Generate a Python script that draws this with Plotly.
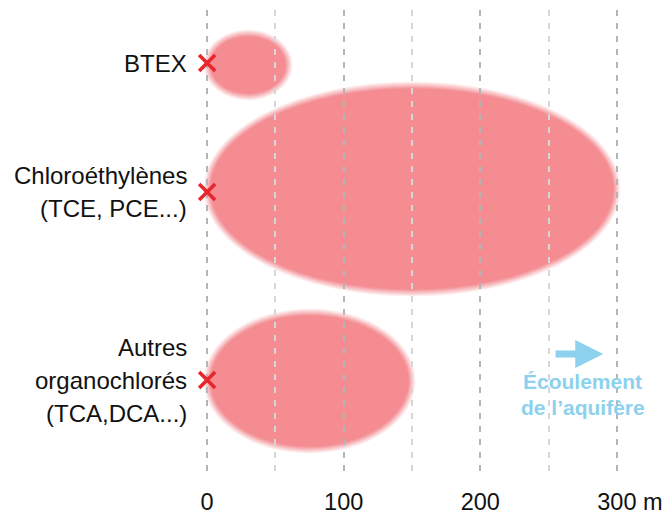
import plotly.graph_objects as go

# ---------------- data ----------------
categories = [["BTEX"], ["Chloroéthylènes", "(TCE, PCE...)"], ["Autres", "organochlorés", "(TCA,DCA...)"]]
source_x = [0, 0, 0]                 # m, source location
plume_length = [60, 300, 150]        # m, plume extent downstream
row_y = [53, 182, 370]               # vertical row position (schematic units)
plume_center_y = [55, 179, 371]
plume_half_height = [32, 104, 69]

tick_vals = [0, 100, 200, 300]
tick_text = ["0", "100", "200", "\u00a0\u00a0\u00a0\u00a0300 m"]
minor_vals = [50, 150, 250]

flow_label = ["Écoulement", "de l’aquifère"]
flow_arrow_x = [254, 290]
flow_arrow_y = 344
flow_text_x = 275
flow_text_y = [371, 397]

# ---------------- style ----------------
W, H = 666, 515
X_RANGE = [-14, 314]
PLOT_TOP, PLOT_BOTTOM = 10, 477
M_T, M_B = PLOT_TOP, H - PLOT_BOTTOM
PLOT_H = PLOT_BOTTOM - PLOT_TOP
PX_PER_M = 136.67 / 100
M_L = round(207 - (0 - X_RANGE[0]) * PX_PER_M)
PLOT_W = (X_RANGE[1] - X_RANGE[0]) * PX_PER_M
M_R = round(W - M_L - PLOT_W)

PLUME_RGB = (244, 140, 146)
BLUE = "#8CD2EE"
FONT = "Liberation Sans, Arial, sans-serif"

fig = go.Figure()

# plumes as blurred ellipses (linear alpha ramp from outside to inside)
shapes = []
BLUR = 3.5
N = 10
for sx, L, cy, hh in zip(source_x, plume_length, plume_center_y, plume_half_height):
    for k in range(1, N + 1):
        e = BLUR - 2 * BLUR * (k - 1) / (N - 1)      # outermost first
        a = 1.0 / (N - k + 1)
        ex = e / PX_PER_M
        shapes.append(dict(type="circle", xref="x", yref="y", layer="below",
                           x0=sx - ex, x1=sx + L + ex, y0=cy - hh - e, y1=cy + hh + e,
                           line=dict(width=0),
                           fillcolor=f"rgba({PLUME_RGB[0]},{PLUME_RGB[1]},{PLUME_RGB[2]},{a:.4f})"))

# source markers
fig.add_trace(go.Scatter(x=source_x, y=row_y, mode="markers",
                         marker=dict(symbol="x-thin", size=16, color="#E8262C",
                                     line=dict(width=3.6, color="#E8262C")),
                         cliponaxis=False, hoverinfo="skip", showlegend=False))

annotations = []
LINE_H = 33
for lines, y in zip(categories, row_y):
    n = len(lines)
    for i, t in enumerate(lines):
        annotations.append(dict(x=0, y=y, xref="x", yref="y", text=t, showarrow=False,
                                xanchor="right", yanchor="middle", align="right",
                                xshift=-18, yshift=-(i - (n - 1) / 2) * LINE_H,
                                font=dict(family=FONT, size=24, color="#111111")))

# flow arrow
annotations.append(dict(x=flow_arrow_x[1], y=flow_arrow_y, ax=flow_arrow_x[0], ay=flow_arrow_y,
                        xref="x", yref="y", axref="x", ayref="y", text="", showarrow=True,
                        arrowhead=2, arrowsize=0.8, arrowwidth=7, arrowcolor=BLUE))
for t, y in zip(flow_label, flow_text_y):
    annotations.append(dict(x=flow_text_x, y=y, xref="x", yref="y", text="<b>" + t + "</b>",
                            showarrow=False, xanchor="center", yanchor="middle",
                            font=dict(family=FONT, size=21, color=BLUE)))

fig.update_layout(
    width=W, height=H,
    margin=dict(l=M_L, r=M_R, t=M_T, b=M_B, pad=0, autoexpand=False),
    plot_bgcolor="white", paper_bgcolor="white",
    shapes=shapes, annotations=annotations,
    xaxis=dict(range=X_RANGE, tickvals=tick_vals, ticktext=tick_text,
               showgrid=True, gridcolor="#B5B5B5", gridwidth=2, griddash="6px,7px",
               zeroline=False, showline=False, ticks="", ticklabelstandoff=8,
               automargin=False,
               tickfont=dict(family=FONT, size=23.5, color="#111111"),
               minor=dict(tickvals=minor_vals, showgrid=True, gridcolor="#D6D6D6",
                          gridwidth=1.5, griddash="6px,7px", ticks=""),
               fixedrange=True),
    yaxis=dict(range=[PLOT_H, 0], visible=False, showgrid=False, zeroline=False,
               fixedrange=True),
    showlegend=False,
)

fig.write_html("out.html", config={"displayModeBar": False},
               post_script="document.body.style.margin='0px';document.body.style.overflow='hidden';")
